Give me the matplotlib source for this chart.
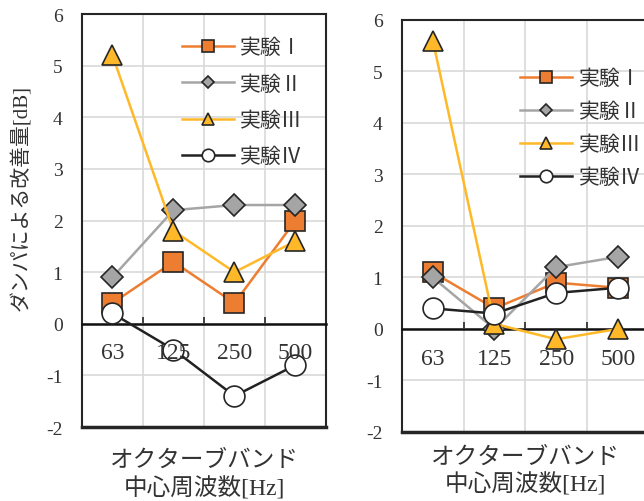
import matplotlib
matplotlib.use("Agg")
import matplotlib.pyplot as plt

plt.rcParams['font.family'] = ['Liberation Serif', 'Noto Sans CJK JP', 'DejaVu Sans']

categories = ["63", "125", "250", "500"]
series_names = ["実験Ⅰ", "実験Ⅱ", "実験Ⅲ", "実験Ⅳ"]

left_I = [0.4, 1.2, 0.4, 2.0]
left_II = [0.9, 2.2, 2.3, 2.3]
left_III = [5.2, 1.8, 1.0, 1.6]
left_IV = [0.2, -0.5, -1.4, -0.8]

right_I = [1.1, 0.4, 0.9, 0.8]
right_II = [1.0, 0.0, 1.2, 1.4]
right_III = [5.6, 0.1, -0.2, 0.0]
right_IV = [0.4, 0.3, 0.7, 0.8]

y_ticks = [-2, -1, 0, 1, 2, 3, 4, 5, 6]
ylabel = "ダンパによる改善量[dB]"
xlabel = "オクターブバンド\n中心周波数[Hz]"

colors = ["#ED7D31", "#A5A5A5", "#FFB928", "#222222"]
markers = ["s", "D", "^", "o"]
msizes = [14, 11, 15, 15]
mfaces = ["#ED7D31", "#A5A5A5", "#FFB928", "white"]
edge = "#262626"
txt = "#333333"

fig = plt.figure(figsize=(6.44, 5.02), dpi=100)
ax1 = fig.add_axes([0.1273, 0.1474, 0.3789, 0.8227])
ax2 = fig.add_axes([0.6242, 0.1375, 0.3830, 0.8207])


def draw(ax, data, leg_anchor, label_y, xlabel_y, lspace):
    x = list(range(len(categories)))
    handles = []
    for vals, c, m, ms, mf, name in zip(data, colors, markers, msizes, mfaces, series_names):
        h, = ax.plot(x, vals, color=c, lw=1.8, marker=m, markersize=ms,
                     markerfacecolor=mf, markeredgecolor=edge, markeredgewidth=1.2,
                     label=name, zorder=3, clip_on=False)
        handles.append(h)
    ax.set_xlim(-0.5, len(categories) - 0.5)
    ax.set_ylim(-2, 6)
    ax.set_yticks(y_ticks)
    ax.set_yticklabels([str(v) for v in y_ticks], fontsize=14, color=txt)
    ax.set_xticks([i + 0.5 for i in range(len(categories) - 1)])
    ax.set_xticklabels([])
    ax.tick_params(axis='x', direction='in', length=5, width=1.2, color=edge)
    ax.tick_params(axis='y', length=0, pad=14)
    ax.grid(True, color="#D9D9D9", lw=1.2, zorder=0)
    ax.set_axisbelow(True)
    ax.spines['bottom'].set_position(('data', 0))
    for s in ['left', 'top', 'right']:
        ax.spines[s].set_color(edge)
        ax.spines[s].set_linewidth(1.5)
    ax.spines['bottom'].set_color('#111111')
    ax.spines['bottom'].set_linewidth(1.8)
    ax.axhline(-2, color=edge, lw=2.5, clip_on=False, zorder=2)
    for i, c in enumerate(categories):
        ax.text(i, label_y, c, ha='center', va='center', fontsize=17, color=txt, zorder=4)
    ax.text(0.5, xlabel_y, xlabel, transform=ax.transAxes, ha='center', va='top',
            fontsize=17, color=txt, linespacing=1.27)
    leg = ax.legend(handles=handles, loc='upper left', bbox_to_anchor=leg_anchor,
                    frameon=False, fontsize=15, markerscale=0.6, handlelength=2.5,
                    labelspacing=lspace, borderpad=0, borderaxespad=0,
                    handletextpad=0.3, labelcolor=txt)
    return leg


draw(ax1, [left_I, left_II, left_III, left_IV], (0.41, 0.94), -0.55, -0.055, 0.8)
draw(ax2, [right_I, right_II, right_III, right_IV], (0.48, 0.88), -0.57, -0.035, 0.65)

fig.text(0.033, 0.605, ylabel, rotation=90, ha='center', va='center', fontsize=15, color=txt)

fig.savefig("out.png", dpi=100)
